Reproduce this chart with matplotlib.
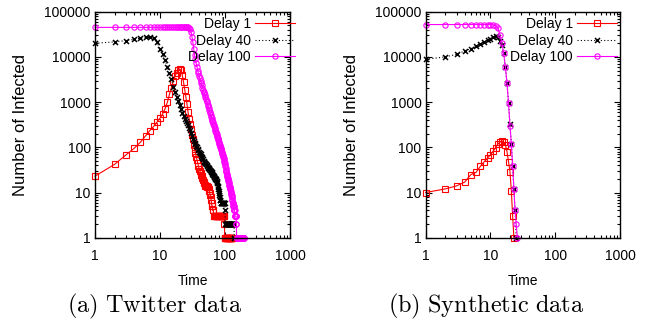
import numpy as np
import matplotlib
matplotlib.use('Agg')
import matplotlib.pyplot as plt
from matplotlib.ticker import NullFormatter, LogLocator

plt.rcParams['font.family'] = ['Liberation Sans', 'DejaVu Sans']
plt.rcParams['mathtext.fontset'] = 'cm'

# ---- data (value at time step 1, 2, 3, ...) ----
# (a) Twitter data
tw_delay1 = [23, 42, 68, 95, 130, 180, 235, 290, 360, 440,
             550, 720, 1000, 1500, 2100, 2900, 3700, 4500, 5100, 5400,
             5100, 4000, 2800, 1900, 1300, 900, 600, 430, 320, 250,
             190, 150, 115, 90, 75, 62, 52, 45, 38, 33,
             30, 27, 25, 23, 21, 19, 17, 16, 15, 14,
             14, 14, 13, 13, 13, 12, 11, 10, 9, 8,
             7, 6, 5, 5, 4, 4, 3, 3, 3, 3,
             3, 3, 3, 3, 3, 3, 3, 3, 3, 3,
             3, 3, 3, 3, 3, 3, 3, 3, 3, 3,
             3, 3, 3, 3, 3, 3, 3, 2, 1, 1,
             1, 1, 1, 1, 1, 1, 1, 1, 1, 1,
             1, 1, 1, 1, 1, 1, 1, 1, 1, 1,
             1, 1, 1, 1, 1, 1, 1, 1, 1, 1]

tw_delay40 = [20000, 21500, 23000, 24500, 26000, 27000, 27000, 26000, 21000, 15000,
              11500, 8500, 6000, 4300, 3200, 2200, 1650, 1300, 1050, 850,
              700, 580, 500, 430, 380, 340, 310, 270, 240, 210,
              175, 155, 140, 127, 117, 108, 100, 93, 86, 80,
              75, 70, 65, 61, 57, 54, 51, 48, 46, 44,
              42, 40, 38, 37, 35, 34, 33, 32, 31, 30,
              29, 28, 27, 26, 25, 24, 23, 22, 21, 21,
              20, 20, 19, 18, 17, 16, 14, 13, 12, 11,
              10, 9, 8, 7, 7, 6, 6, 6, 6, 6,
              6, 6, 6, 6, 6, 6, 6, 6, 6, 4,
              2, 2, 2, 2, 2, 2, 2, 2, 2, 2,
              2, 2, 2, 2, 2, 2, 2, 2, 2, 2,
              2, 2, 2, 2, 2, 2, 2, 2, 2, 2,
              2, 2, 2, 2, 2, 2, 2, 2, 1, 1]

tw_delay100 = [45000, 45000, 45000, 45000, 45000, 45000, 45000, 45000, 45000, 45000,
               45000, 45000, 45000, 45000, 45000, 45000, 45000, 45000, 45000, 45000,
               45000, 45000, 45000, 45000, 45000, 45000, 45000, 44000, 42000, 36000,
               28000, 21000, 15000, 11000, 8800, 7200, 6000, 5000, 4300, 3800,
               3350, 3000, 2650, 2350, 2100, 1900, 1700, 1550, 1400, 1280,
               1170, 1070, 980, 880, 800, 730, 670, 610, 560, 520,
               480, 440, 410, 380, 355, 330, 310, 290, 270, 250,
               235, 220, 205, 192, 180, 170, 160, 150, 142, 134,
               127, 120, 113, 107, 101, 95, 90, 85, 80, 76,
               72, 68, 65, 62, 58, 54, 50, 47, 44, 41,
               38, 35, 32, 30, 28, 26, 25, 23, 22, 21,
               20, 19, 18, 17, 16, 15, 14, 13, 13, 12,
               12, 11, 10, 10, 9, 9, 8, 8, 7, 7,
               6, 6, 6, 5, 5, 5, 5, 4, 4, 4,
               4, 3, 3, 3, 3, 3, 3, 3, 2, 2,
               1, 1, 1, 1, 1, 1, 1, 1, 1, 1,
               1, 1, 1, 1, 1, 1, 1, 1, 1, 1,
               1, 1, 1, 1, 1, 1, 1, 1, 1, 1,
               1, 1, 1, 1, 1, 1, 1, 1, 1, 1,
               1, 1, 1, 1, 1]

# (b) Synthetic data
syn_delay1 = [10, 12, 14, 17, 25, 28, 38, 48, 58, 68,
              82, 98, 118, 130, 140, 128, 115, 80, 48, 29,
              11, 3, 1]
syn_delay40 = [8850, 10000, 11400, 13500, 15300, 17000, 19500, 21500, 23500, 25500,
               27000, 28500, 27000, 23000, 18000, 12000, 6000, 2600, 950, 320,
               120, 38, 12, 4, 1]
syn_delay100 = [52000, 52000, 52000, 52000, 52000, 52000, 52000, 52000, 52000, 52000,
                51000, 49000, 44000, 31000, 20000, 12000, 6000, 2600, 950, 300,
                120, 38, 12, 4, 2, 1]

labels = ['Delay 1', 'Delay 40', 'Delay 100']
x_ticks = [1, 10, 100, 1000]
x_ticklabels = ['1', '10', '100', '1000']
y_ticks = [1, 10, 100, 1000, 10000, 100000]
y_ticklabels = ['1', '10', '100', '1000', '10000', '100000']
captions = [r'$\mathrm{(a)\ Twitter\ data}$', r'$\mathrm{(b)\ Synthetic\ data}$']


def steps(vals):
    return np.arange(1, len(vals) + 1)


def panel(ax, d1, d40, d100, leg_x):
    ax.plot(steps(d1), d1, color='#ff0000', lw=0.8, marker='s', ms=3.8,
            mfc='none', mec='#ff0000', mew=0.8, clip_on=False, label=labels[0])
    ax.plot(steps(d40), d40, color='black', lw=0.8, ls=(0, (1, 2)),
            marker='x', ms=3.6, mec='black', mew=1.1, clip_on=False,
            label=labels[1])
    ax.plot(steps(d100), d100, color='#ff00ff', lw=0.8, marker='o', ms=3.8,
            mfc='none', mec='#ff00ff', mew=0.8, clip_on=False, label=labels[2])

    ax.set_xscale('log')
    ax.set_yscale('log')
    ax.set_xlim(1, 1000)
    ax.set_ylim(1, 100000)
    ax.set_xticks(x_ticks, x_ticklabels)
    ax.set_yticks(y_ticks, y_ticklabels)
    ax.xaxis.set_minor_locator(LogLocator(subs=np.arange(2, 10)))
    ax.yaxis.set_minor_locator(LogLocator(subs=np.arange(2, 10)))
    ax.xaxis.set_minor_formatter(NullFormatter())
    ax.yaxis.set_minor_formatter(NullFormatter())
    ax.tick_params(which='both', direction='in', top=True, right=True,
                   labelsize=10, width=0.8)
    ax.tick_params(which='major', length=4)
    ax.tick_params(which='minor', length=2)
    ax.tick_params(axis='x', pad=8)
    ax.tick_params(axis='y', pad=3)
    for sp in ax.spines.values():
        sp.set_linewidth(1.0)

    ax.set_xlabel('Time', fontsize=10)
    ax.xaxis.set_label_coords(0.5, -0.16)
    ax.set_ylabel('Number of Infected', fontsize=12)
    ax.yaxis.set_label_coords(-0.345, 0.5)

    ax.legend(loc='upper right', bbox_to_anchor=(leg_x, 0.975), frameon=False,
              markerfirst=False, fontsize=10, handlelength=2.9,
              handletextpad=0.3, labelspacing=0.18, borderpad=0,
              borderaxespad=0, numpoints=1)


fig = plt.figure(figsize=(6.51, 3.2), dpi=100)
ax1 = fig.add_axes([95 / 651, 1 - 237.7 / 320, 195 / 651, 226 / 320])
ax2 = fig.add_axes([425.7 / 651, 1 - 237.7 / 320, 194.3 / 651, 226 / 320])

panel(ax1, tw_delay1, tw_delay40, tw_delay100, 1.026)
panel(ax2, syn_delay1, syn_delay40, syn_delay100, 0.985)

fig.text(155 / 651, 1 - 306 / 320, captions[0], ha='center', va='center', fontsize=17.5)
fig.text(486 / 651, 1 - 306 / 320, captions[1], ha='center', va='center', fontsize=17.5)

fig.savefig('out.png', dpi=100)
